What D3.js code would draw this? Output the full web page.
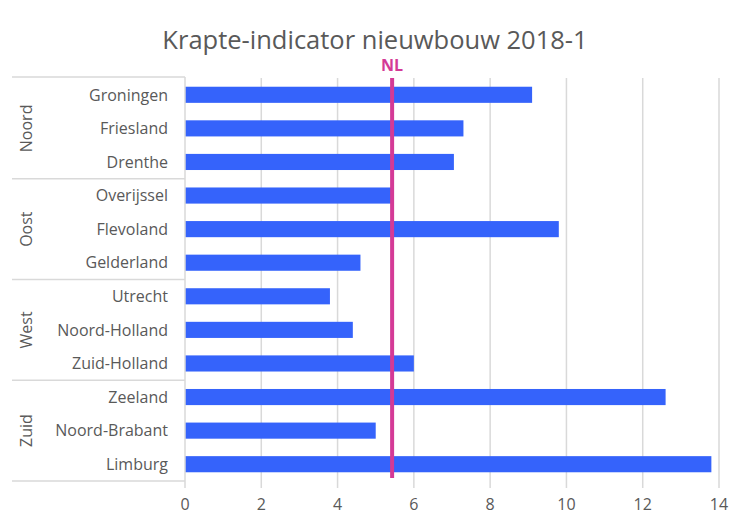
<!DOCTYPE html>
<html>
<head>
<meta charset="utf-8">
<script src="https://cdn.jsdelivr.net/npm/d3@7"></script>
<style>
  body { margin: 0; background: #fff; }
  text { font-family: "Open Sans", "Noto Sans", sans-serif; }
</style>
</head>
<body>
<svg id="chart" width="750" height="530"></svg>
<script>
const provinces = ['Groningen', 'Friesland', 'Drenthe', 'Overijssel', 'Flevoland', 'Gelderland',
  'Utrecht', 'Noord-Holland', 'Zuid-Holland', 'Zeeland', 'Noord-Brabant', 'Limburg'];
const regions = ['Noord', 'Oost', 'West', 'Zuid'];
const values = [9.1, 7.3, 7.05, 5.4, 9.8, 4.6, 3.8, 4.4, 6.0, 12.6, 5.0, 13.8];
const nlValue = 5.43;
const xTicks = [0, 2, 4, 6, 8, 10, 12, 14];

const width = 750;
const height = 530;
const margin = { top: 78, left: 185, right: 31, bottom: 49 };
const svg = d3.select('#chart');

const x = d3.scaleLinear().domain([0, 14]).range([margin.left, width - margin.right]);
const y = d3.scaleBand().domain(provinces)
  .range([margin.top, height - margin.bottom]).paddingInner(0.52).paddingOuter(0.26);

// title
svg.append('text')
  .attr('x', 375).attr('y', 49)
  .attr('text-anchor', 'middle')
  .style('font-size', '25.5px')
  .style('fill', '#595959')
  .text('Krapte-indicator nieuwbouw 2018-1');

// gridlines
svg.append('g').selectAll('line')
  .data(xTicks.slice(1))
  .enter()
  .append('line')
  .attr('x1', d => x(d)).attr('x2', d => x(d))
  .attr('y1', margin.top).attr('y2', height - margin.bottom + 7)
  .attr('stroke', '#d9d9d9')
  .attr('stroke-width', 1.5);

// x tick labels
svg.append('g').selectAll('text')
  .data(xTicks)
  .enter()
  .append('text')
  .attr('x', d => x(d)).attr('y', 510)
  .attr('text-anchor', 'middle')
  .style('font-size', '16px')
  .style('fill', '#595959')
  .text(d => d);

// bars
svg.append('g').selectAll('rect')
  .data(provinces)
  .enter()
  .append('rect')
  .attr('x', x(0))
  .attr('y', d => y(d))
  .attr('width', (d, i) => x(values[i]) - x(0))
  .attr('height', y.bandwidth())
  .attr('fill', '#3563fb');

// category labels
svg.append('g').selectAll('text')
  .data(provinces)
  .enter()
  .append('text')
  .attr('x', 168)
  .attr('y', d => y(d) + y.bandwidth() / 2)
  .attr('dy', '0.36em')
  .attr('text-anchor', 'end')
  .style('font-size', '16px')
  .style('fill', '#595959')
  .text(d => d);

// group separators
const groupTop = i => margin.top + i * 3 * (height - margin.top - margin.bottom) / 12;
const sep = svg.append('g').attr('stroke', '#d9d9d9').attr('stroke-width', 1.5);
d3.range(5).forEach(i => {
  sep.append('line')
    .attr('x1', 12).attr('x2', margin.left)
    .attr('y1', groupTop(i) + (i === 0 ? -1 : 0)).attr('y2', groupTop(i) + (i === 0 ? -1 : 0));
});
sep.append('line')
  .attr('x1', margin.left).attr('x2', margin.left)
  .attr('y1', margin.top - 1).attr('y2', height - margin.bottom + 7);

// group labels
svg.append('g').selectAll('text')
  .data(regions)
  .enter()
  .append('text')
  .attr('transform', (d, i) => `translate(32,${(groupTop(i) + groupTop(i + 1)) / 2}) rotate(-90)`)
  .attr('text-anchor', 'middle')
  .style('font-size', '16px')
  .style('fill', '#595959')
  .text(d => d);

// NL line
svg.append('line')
  .attr('x1', x(nlValue)).attr('x2', x(nlValue))
  .attr('y1', margin.top).attr('y2', height - margin.bottom - 3)
  .attr('stroke', '#d43a96')
  .attr('stroke-width', 4);

svg.append('text')
  .attr('x', x(nlValue)).attr('y', 71)
  .attr('text-anchor', 'middle')
  .style('font-size', '16px')
  .style('font-weight', 'bold')
  .style('fill', '#d43a96')
  .text('NL');
</script>
</body>
</html>
